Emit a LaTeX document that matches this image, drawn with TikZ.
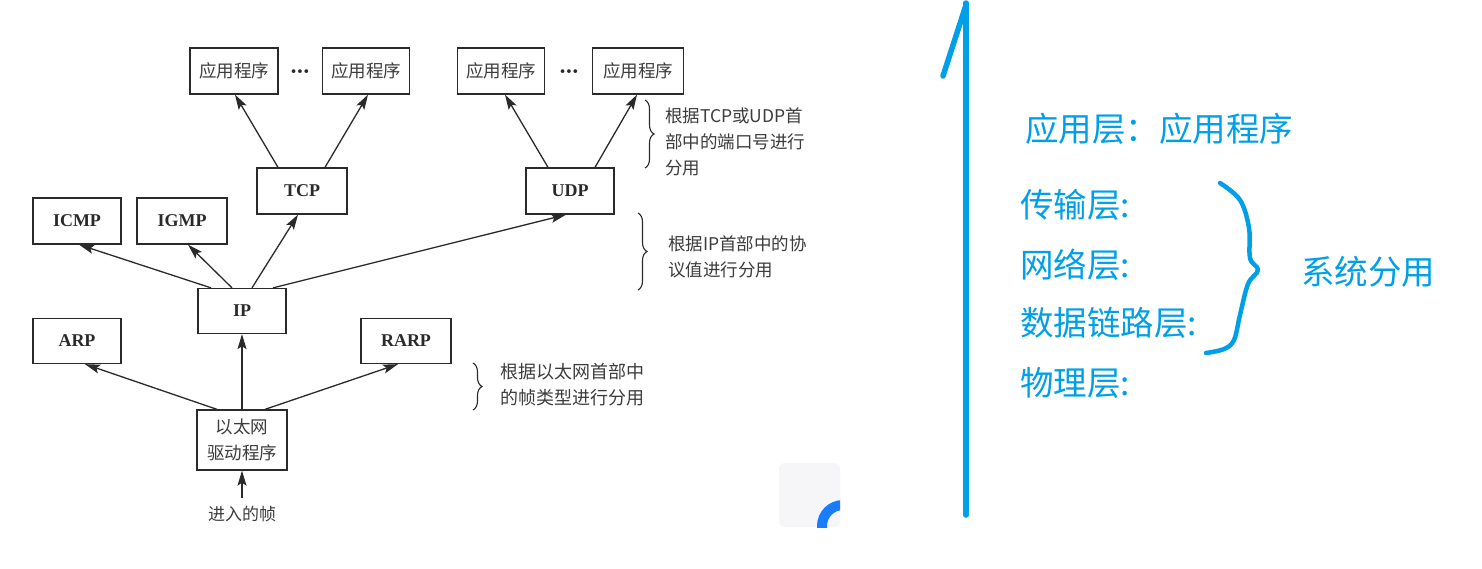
\documentclass[tikz,border=0pt]{standalone}
\usepackage{fontspec}
\newfontfamily\cjk{Noto Sans CJK SC}
\newfontfamily\tms{Liberation Serif}
\usetikzlibrary{arrows.meta,decorations.pathreplacing}
\definecolor{ink}{HTML}{2A2A2A}
\definecolor{txt}{HTML}{3C3C3C}
\definecolor{sky}{HTML}{00A0E9}
\definecolor{icon}{HTML}{1A7CFF}
\definecolor{pane}{HTML}{F6F6F8}
\tikzset{
  box/.style={draw=ink, line width=1.3pt, fill=white, inner sep=0pt, minimum height=46pt, text=txt},
  appbox/.style={box, minimum width=88pt, font=\cjk\fontsize{17.5}{17.5}\selectfont},
  protobox/.style={box, minimum width=89pt, font=\tms\bfseries\fontsize{18}{18}\selectfont, text=ink},
  arr/.style={draw=ink, line width=1.3pt, -{Stealth[length=15pt,width=9pt,inset=3pt]}},
  note/.style={anchor=west, align=left, text=txt, inner sep=0pt, font=\cjk\fontsize{17.5}{26}\selectfont},
  brc/.style={draw=ink, line width=1.1pt, decorate, decoration={brace, amplitude=9pt}},
  layer/.style={anchor=west, text=sky, inner sep=0pt, font=\cjk\fontsize{33.5}{33.5}\selectfont},
  skyline/.style={draw=sky, line width=5.5pt, line cap=round, line join=round},
  dotsnode/.style={text=ink, font=\bfseries\fontsize{26}{26}\selectfont}
}
\begin{document}
\begin{tikzpicture}[x=1pt,y=-1pt]
\useasboundingbox[fill=white] (0,0) rectangle (1482,568);

% application boxes
\node[appbox] (app1) at (234,71) {应用程序};
\node[appbox, minimum width=87pt] (app2) at (366,71) {应用程序};
\node[appbox, minimum width=87pt] (app3) at (501,71) {应用程序};
\node[appbox, minimum width=91pt] (app4) at (638,71) {应用程序};
\node[dotsnode] (dots1) at (300,72) {\ldots};
\node[dotsnode] (dots2) at (569,72) {\ldots};

% protocol boxes
\node[protobox, minimum width=90pt] (tcp) at (302,191) {TCP};
\node[protobox, minimum width=88pt] (udp) at (570,191) {UDP};
\node[protobox, minimum width=88pt] (icmp) at (77,221) {ICMP};
\node[protobox, minimum width=90pt] (igmp) at (182,221) {IGMP};
\node[protobox, minimum width=88pt, minimum height=45pt] (ip) at (242,311) {IP};
\node[protobox, minimum width=88pt, minimum height=45pt] (arp) at (77,341) {ARP};
\node[protobox, minimum width=90pt, minimum height=45pt] (rarp) at (406,341) {RARP};
\node[box, minimum width=90pt, minimum height=60pt, align=center,
      font=\cjk\fontsize{17.5}{26}\selectfont] (eth) at (242,440) {以太网\\驱动程序};
\node[text=txt, font=\cjk\fontsize{17}{17}\selectfont] (frame) at (242,514) {进入的帧};
\coordinate (in) at (242,498);

% arrows
\draw[arr] ([xshift=-24pt]tcp.north) -- ([xshift=1pt]app1.south);
\draw[arr] ([xshift=23pt]tcp.north) -- ([xshift=2pt]app2.south);
\draw[arr] ([xshift=-22pt]udp.north) -- ([xshift=4pt]app3.south);
\draw[arr] ([xshift=25pt]udp.north) -- ([xshift=-1pt]app4.south);
\draw[arr] ([xshift=-31pt]ip.north) -- ([xshift=2pt]icmp.south);
\draw[arr] ([xshift=-10pt]ip.north) -- ([xshift=6pt]igmp.south);
\draw[arr] ([xshift=10pt]ip.north) -- ([xshift=-4pt]tcp.south);
\draw[arr] ([xshift=31pt]ip.north) -- ([xshift=-4pt]udp.south);
\draw[arr] ([xshift=-25pt]eth.north) -- ([xshift=8pt]arp.south);
\draw[arr] (eth.north) -- (ip.south);
\draw[arr] ([xshift=23pt]eth.north) -- ([xshift=-8pt]rarp.south);
\draw[arr] (in) -- (eth.south);

% braces and notes
\draw[brc] (645,100) -- (645,168);
\node[note] (n1) at (665,142) {根据TCP或UDP首\\部中的端口号进行\\分用};
\draw[brc] (638,213) -- (638,290);
\node[note] (n2) at (668,257) {根据IP首部中的协\\议值进行分用};
\draw[brc] (473,363) -- (473,410);
\node[note, font=\cjk\fontsize{18}{26}\selectfont] (n3) at (500,385) {根据以太网首部中\\的帧类型进行分用};

% small screenshot artefact
\fill[pane, rounded corners=6pt] (779,463) rectangle (840,527);
\begin{scope}
  \clip (779,463) rectangle (840,527);
  \draw[icon, line width=10pt] (843,526) circle (21pt);
\end{scope}

% right side: blue annotations
\draw[skyline] (966,515) -- (966,3);
\draw[skyline] (966,5) -- (943,76);
\node[layer] (l5) at (1025,129) {应用层：应用程序};
\node[layer] (l4) at (1020,205) {传输层:};
\node[layer] (l3) at (1020,265) {网络层:};
\node[layer] (l2) at (1020,323) {数据链路层:};
\node[layer] (l1) at (1020,383) {物理层:};
\node[layer] (demux) at (1301,272) {系统分用};
\draw[skyline, line width=4.5pt] plot[smooth, tension=0.6] coordinates {
  (1220,183) (1240,200) (1249,228) (1250,258) (1258,270) (1248,284)
  (1240,315) (1234,340) (1224,349) (1206,353)};
\end{tikzpicture}
\end{document}
